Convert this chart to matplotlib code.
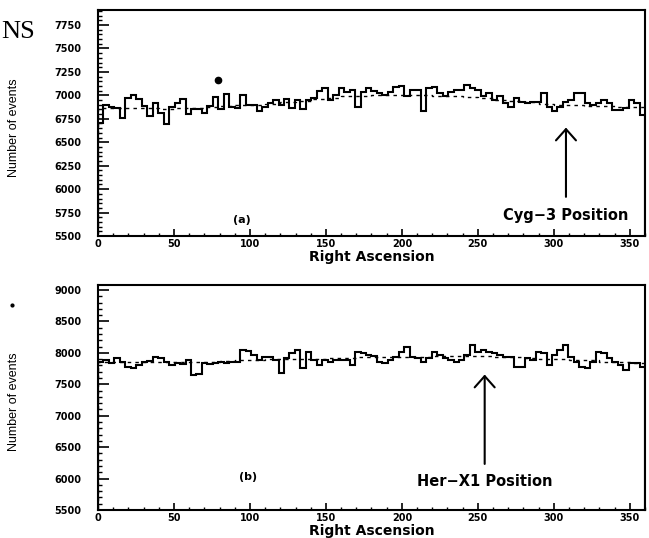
import numpy as np
import matplotlib
matplotlib.use("Agg")
import matplotlib.pyplot as plt
from matplotlib.lines import Line2D

# right ascension binning (100 bins of 3.6 deg)
ra_edges = np.linspace(0, 360, 101)
bg_edges = np.linspace(0, 360, 37)

# (a) events per bin, Cyg-3 scan
counts_a = [6704, 6900, 6880, 6870, 6760, 6970, 7005, 6960, 6890, 6780,
            6920, 6810, 6690, 6880, 6920, 6960, 6800, 6850, 6850, 6810,
            6890, 6985, 6850, 7010, 6880, 6870, 7000, 6900, 6900, 6830,
            6880, 6920, 6950, 6900, 6960, 6870, 6950, 6850, 6950, 6970,
            7050, 7076, 6952, 7000, 7076, 7040, 7059, 6880, 7041, 7080,
            7050, 7030, 7005, 7040, 7094, 7100, 6990, 7059, 7059, 6830,
            7076, 7094, 7023, 6990, 7041, 7059, 7059, 7112, 7076, 7059,
            6990, 7023, 6952, 6988, 6917, 6881, 6970, 6934, 6917, 6934,
            6934, 7023, 6881, 6828, 6881, 6934, 6952, 7023, 7023, 6917,
            6899, 6917, 6952, 6917, 6846, 6846, 6863, 6952, 6917, 6793]
# (a) expected background (dashed), 10 deg bins
bg_a = [6870, 6860, 6870, 6860, 6850, 6870, 6860, 6880, 6890, 6900,
        6900, 6910, 6930, 6940, 6960, 6970, 6990, 6990, 7000, 7000,
        7000, 7000, 6990, 6990, 6980, 6970, 6950, 6940, 6930, 6910,
        6900, 6900, 6890, 6890, 6880, 6880]

# (b) events per bin, Her-X1 scan
counts_b = [7860, 7886, 7833, 7912, 7860, 7780, 7754, 7807, 7860, 7870,
            7939, 7912, 7860, 7807, 7833, 7820, 7886, 7648, 7660, 7833,
            7820, 7833, 7860, 7845, 7850, 7860, 8045, 8030, 7966, 7886,
            7939, 7939, 7886, 7674, 7912, 7992, 8045, 7754, 8019, 7886,
            7807, 7886, 7860, 7886, 7895, 7895, 7807, 8019, 7992, 7966,
            7950, 7860, 7833, 7886, 7939, 8019, 8098, 7939, 7912, 7860,
            7912, 8019, 7966, 7912, 7886, 7860, 7886, 7966, 8125, 8019,
            8045, 8019, 7992, 7966, 7930, 7939, 7780, 7780, 7912, 7886,
            8019, 7992, 7807, 7966, 8045, 8125, 7939, 7860, 7780, 7754,
            7860, 8019, 7992, 7912, 7860, 7807, 7727, 7833, 7833, 7780]
bg_b = [7860, 7860, 7855, 7860, 7860, 7850, 7855, 7860, 7870, 7880,
        7890, 7900, 7900, 7910, 7910, 7920, 7920, 7930, 7930, 7940,
        7940, 7940, 7950, 7950, 7950, 7950, 7940, 7930, 7920, 7910,
        7900, 7890, 7880, 7860, 7850, 7840]

# marked point in (a)
dot_ra, dot_n = 79, 7165

# source positions
cyg3_ra = 308
herx1_ra = 254.5

tick_font = dict(family="DejaVu Sans", weight="bold", size=7)

fig = plt.figure(figsize=(6.49, 5.38), dpi=100)
ax_a = fig.add_axes([0.151, 0.5613, 0.8428, 0.4201])
ax_b = fig.add_axes([0.151, 0.0520, 0.8428, 0.4182])


def style_axes(ax, ylim, major, minor, xlab_y):
    ax.set_xlim(0, 360)
    ax.set_ylim(*ylim)
    ax.set_xticks(np.arange(0, 351, 50))
    ax.set_xticks(np.arange(0, 361, 10), minor=True)
    ax.set_yticks(np.arange(ylim[0], ylim[1], major))
    ax.set_yticks(np.arange(ylim[0], ylim[1], minor), minor=True)
    ax.tick_params(axis="x", which="major", direction="in", length=5, width=1.2, pad=2)
    ax.tick_params(axis="x", which="minor", direction="in", length=2.5, width=1)
    ax.tick_params(axis="y", which="major", direction="in", length=8, width=1.2, pad=12)
    ax.tick_params(axis="y", which="minor", direction="in", length=3, width=1)
    for lab in ax.get_xticklabels() + ax.get_yticklabels():
        lab.set_fontproperties(matplotlib.font_manager.FontProperties(**tick_font))
    for sp in ax.spines.values():
        sp.set_linewidth(1.5)
    ax.set_xlabel("Right Ascension", fontsize=10, fontweight="bold")
    ax.xaxis.set_label_coords(0.5, xlab_y)
    ax.set_ylabel("Number of events", fontsize=9,
                  family=["Liberation Sans", "DejaVu Sans"])
    ax.yaxis.set_label_coords(-0.143, 0.48)


# panel (a)
ax_a.stairs(counts_a, ra_edges, color="k", lw=1.5)
ax_a.stairs(bg_a, bg_edges, color="k", lw=1, linestyle=(0, (2.5, 3)))
ax_a.plot(dot_ra, dot_n, "o", color="k", ms=4.5)
style_axes(ax_a, (5500, 7910), 250, 50, -0.06)
ax_a.annotate("", xy=(cyg3_ra, 6686), xytext=(cyg3_ra, 5888),
              arrowprops=dict(arrowstyle="->,head_length=0.45,head_width=0.4",
                              color="k", lw=1.5, mutation_scale=18))
ax_a.text(cyg3_ra, 5718, "Cyg\u22123 Position", ha="center", va="center",
          fontsize=10.5, fontweight="bold")
ax_a.text(95, 5676, "(a)", ha="center", va="center", fontsize=8, fontweight="bold")

# panel (b)
ax_b.stairs(counts_b, ra_edges, color="k", lw=1.5)
ax_b.stairs(bg_b, bg_edges, color="k", lw=1, linestyle=(0, (2.5, 3)))
style_axes(ax_b, (5500, 9080), 500, 100, -0.063)
ax_b.annotate("", xy=(herx1_ra, 7700), xytext=(herx1_ra, 6189),
              arrowprops=dict(arrowstyle="->,head_length=0.45,head_width=0.4",
                              color="k", lw=1.5, mutation_scale=18))
ax_b.text(herx1_ra, 5950, "Her\u2212X1 Position", ha="center", va="center",
          fontsize=10.5, fontweight="bold")
ax_b.text(99, 6020, "(b)", ha="center", va="center", fontsize=8, fontweight="bold")

# leftovers from the scanned page
fig.text(1 / 649, 1 - 38 / 538, "NS", ha="left", va="baseline", fontsize=19,
         family=["Liberation Serif", "DejaVu Serif"])
fig.add_artist(Line2D([12 / 649], [1 - 305 / 538], marker="o", ms=2, color="k",
                      transform=fig.transFigure))

fig.savefig("out.png", dpi=100)
